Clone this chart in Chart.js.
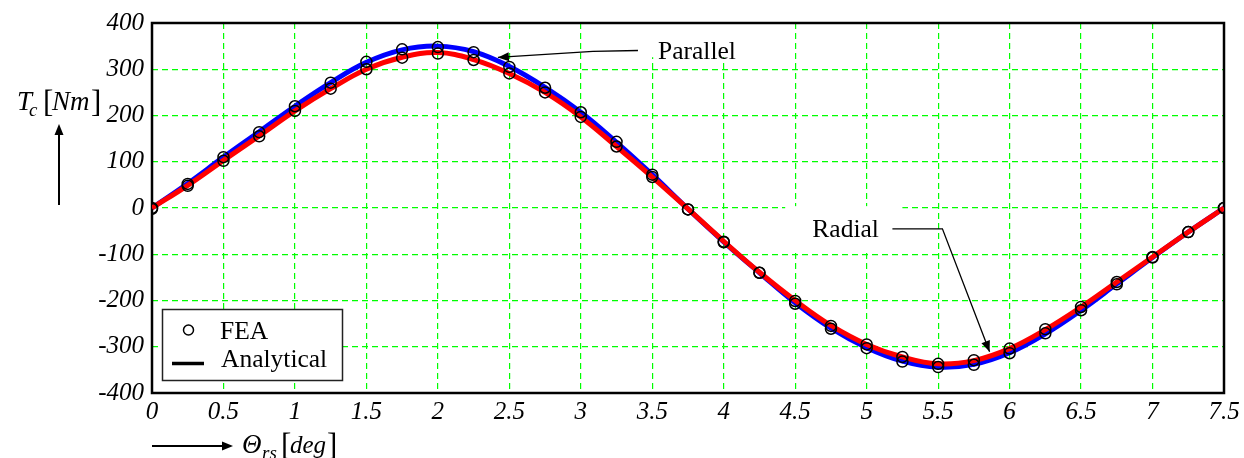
<!DOCTYPE html>
<html>
<head>
<meta charset="utf-8">
<script src="https://cdn.jsdelivr.net/npm/chart.js@4.4.1/dist/chart.umd.min.js"></script>
<style>
  html, body { margin: 0; padding: 0; background: #fff; }
  #wrap { width: 1244px; height: 458px; }
</style>
</head>
<body>
<div id="wrap"><canvas id="c" width="1244" height="458"></canvas></div>
<script>
// ---- data ----
const angles = [0, 0.25, 0.5, 0.75, 1, 1.25, 1.5, 1.75, 2, 2.25, 2.5, 2.75, 3, 3.25, 3.5, 3.75,
                4, 4.25, 4.5, 4.75, 5, 5.25, 5.5, 5.75, 6, 6.25, 6.5, 6.75, 7, 7.25, 7.5];
const parallelFEA = [0, 52, 110, 164, 220, 271, 316, 343, 348, 337, 305, 260, 207, 143, 72, -3,
                     -74, -140, -207, -261, -303, -332, -344, -339, -314, -271, -221, -165, -107, -52, 0];
const radialFEA = [-2, 48, 102, 155, 210, 258, 300, 325, 334, 320, 291, 250, 197, 133, 67, -3,
                   -73, -140, -201, -255, -295, -322, -337, -329, -304, -262, -214, -160, -106, -52, 0];
const parallelAnalytical = [0, 53, 110, 165, 220, 271, 315, 342, 350, 338, 306, 261, 207, 142, 72, -2,
                            -73, -140, -205, -260, -302, -331, -344, -338, -313, -272, -221, -164, -107, -52, 0];
const radialAnalytical = [0, 49, 103, 156, 210, 258, 300, 326, 336, 321, 291, 250, 197, 133, 67, -2,
                          -72, -139, -200, -254, -295, -322, -337, -330, -304, -263, -214, -160, -106, -52, 0];
const xTickLabels = ['0', '0.5', '1', '1.5', '2', '2.5', '3', '3.5', '4', '4.5', '5', '5.5', '6', '6.5', '7', '7.5'];
const yTickLabels = ['-400', '-300', '-200', '-100', '0', '100', '200', '300', '400'];
const legendLabels = ['FEA', 'Analytical'];
const annotationLabels = ['Parallel', 'Radial'];

const toXY = arr => angles.map((a, i) => ({ x: a, y: arr[i] }));
const SERIF = "'Liberation Serif', 'Times New Roman', serif";

function arrowHead(ctx, fx, fy, tx, ty, len, half) {
  const ang = Math.atan2(ty - fy, tx - fx);
  ctx.beginPath();
  ctx.moveTo(tx, ty);
  ctx.lineTo(tx - len * Math.cos(ang) + half * Math.sin(ang), ty - len * Math.sin(ang) - half * Math.cos(ang));
  ctx.lineTo(tx - len * Math.cos(ang) - half * Math.sin(ang), ty - len * Math.sin(ang) + half * Math.cos(ang));
  ctx.closePath();
  ctx.fill();
}

const overlay = {
  id: 'overlay',
  beforeDatasetsDraw(chart) {
    const { ctx, chartArea: a, scales: { x, y } } = chart;
    ctx.save();
    // white boxes behind annotation labels
    ctx.fillStyle = '#fff';
    const boxes = [[3.40, 4.23, 400, 326], [4.43, 5.25, 4, -90]];
    for (const b of boxes) {
      const x0 = x.getPixelForValue(b[0]), x1 = x.getPixelForValue(b[1]);
      const y0 = y.getPixelForValue(b[2]), y1 = y.getPixelForValue(b[3]);
      ctx.fillRect(x0, y0, x1 - x0, y1 - y0);
    }
    // frame
    ctx.strokeStyle = '#000';
    ctx.lineWidth = 2.5;
    ctx.strokeRect(a.left, a.top, a.right - a.left, a.bottom - a.top);
    ctx.restore();
  },
  afterDraw(chart) {
    const { ctx, scales: { x, y } } = chart;
    ctx.save();
    ctx.fillStyle = '#000';
    ctx.strokeStyle = '#000';
    ctx.textBaseline = 'alphabetic';
    ctx.textAlign = 'left';

    // annotations
    ctx.font = `25.5px ${SERIF}`;
    ctx.fillText(annotationLabels[0], x.getPixelForValue(3.54), y.getPixelForValue(322));
    ctx.fillText(annotationLabels[1], x.getPixelForValue(4.62), y.getPixelForValue(-62));
    ctx.lineWidth = 1.3;
    // Parallel arrow
    let p = [[3.40, 340.5], [3.085, 338.5], [2.42, 325.5]].map(q => [x.getPixelForValue(q[0]), y.getPixelForValue(q[1])]);
    ctx.beginPath(); ctx.moveTo(p[0][0], p[0][1]); ctx.lineTo(p[1][0], p[1][1]); ctx.lineTo(p[2][0], p[2][1]); ctx.stroke();
    arrowHead(ctx, p[1][0], p[1][1], p[2][0], p[2][1], 11, 4.5);
    // Radial arrow
    p = [[5.18, -45], [5.53, -45], [5.86, -311]].map(q => [x.getPixelForValue(q[0]), y.getPixelForValue(q[1])]);
    ctx.beginPath(); ctx.moveTo(p[0][0], p[0][1]); ctx.lineTo(p[1][0], p[1][1]); ctx.lineTo(p[2][0], p[2][1]); ctx.stroke();
    arrowHead(ctx, p[1][0], p[1][1], p[2][0], p[2][1], 11, 4.5);

    // legend box
    ctx.fillStyle = '#fff';
    ctx.fillRect(162, 309, 181, 72);
    ctx.strokeStyle = '#222';
    ctx.lineWidth = 1.5;
    ctx.strokeRect(162.5, 309.5, 180, 71);
    ctx.strokeStyle = '#000';
    ctx.beginPath(); ctx.arc(188.5, 330, 5, 0, Math.PI * 2); ctx.lineWidth = 1.5; ctx.stroke();
    ctx.lineWidth = 3.5;
    ctx.beginPath(); ctx.moveTo(172, 363.5); ctx.lineTo(204, 363.5); ctx.stroke();
    ctx.fillStyle = '#000';
    ctx.font = `25.5px ${SERIF}`;
    ctx.fillText(legendLabels[0], 220, 338.5);
    ctx.fillText(legendLabels[1], 221, 366.5);

    // y axis title: T_c [Nm]
    ctx.font = `italic 27px ${SERIF}`;
    ctx.fillText('T', 17, 110);
    ctx.font = `italic 19px ${SERIF}`;
    ctx.fillText('c', 29, 116);
    ctx.font = `31px ${SERIF}`;
    ctx.fillText('[', 43, 112);
    ctx.fillText(']', 91, 112);
    ctx.font = `italic 27px ${SERIF}`;
    ctx.fillText('Nm', 52, 110);
    // y arrow
    ctx.lineWidth = 2;
    ctx.beginPath(); ctx.moveTo(59, 205); ctx.lineTo(59, 133); ctx.stroke();
    arrowHead(ctx, 59, 205, 59, 124, 11, 4.5);

    // x axis title: Θ_rs [deg]
    ctx.beginPath(); ctx.moveTo(152, 446); ctx.lineTo(224, 446); ctx.stroke();
    arrowHead(ctx, 152, 446, 233, 446, 11, 4.5);
    ctx.font = `italic 27px ${SERIF}`;
    ctx.fillText('\u0398', 242, 453);
    ctx.font = `italic 19px ${SERIF}`;
    ctx.fillText('rs', 262, 459);
    ctx.font = `31px ${SERIF}`;
    ctx.fillText('[', 281, 455);
    ctx.fillText(']', 327, 455);
    ctx.font = `italic 25px ${SERIF}`;
    ctx.fillText('deg', 290, 453);
    ctx.restore();
  }
};

const circleStyle = {
  showLine: false, pointRadius: 5.5, pointHoverRadius: 5.5, pointBorderWidth: 1.5,
  pointBorderColor: '#000', pointBackgroundColor: 'rgba(0,0,0,0)'
};
const lineStyle = { showLine: true, pointRadius: 0, borderWidth: 5, tension: 0.4, fill: false };

new Chart(document.getElementById('c'), {
  type: 'scatter',
  data: {
    datasets: [
      Object.assign({ label: 'FEA Parallel', data: toXY(parallelFEA) }, circleStyle),
      Object.assign({ label: 'FEA Radial', data: toXY(radialFEA) }, circleStyle),
      Object.assign({ label: 'Analytical Radial', data: toXY(radialAnalytical), borderColor: '#ff0000' }, lineStyle),
      Object.assign({ label: 'Analytical Parallel', data: toXY(parallelAnalytical), borderColor: '#0000ff' }, lineStyle)
    ]
  },
  options: {
    responsive: false,
    animation: false,
    devicePixelRatio: 1,
    layout: { padding: { left: 0, right: 20, top: 20, bottom: 0 } },
    plugins: { legend: { display: false }, tooltip: { enabled: false } },
    scales: {
      x: {
        type: 'linear', min: 0, max: 7.5,
        afterFit: s => { s.height = 65; },
        ticks: {
          stepSize: 0.5, padding: 4, color: '#000', maxRotation: 0, autoSkip: false,
          font: { family: SERIF, size: 25, style: 'italic' },
          callback: v => xTickLabels[Math.round(v / 0.5)]
        },
        grid: { color: '#00ff00', lineWidth: 1.2, drawTicks: false },
        border: { display: false, dash: [6, 4] }
      },
      y: {
        min: -400, max: 400,
        afterFit: s => { s.width = 152; },
        ticks: {
          stepSize: 100, padding: 8, color: '#000',
          font: { family: SERIF, size: 25, style: 'italic' },
          callback: v => yTickLabels[Math.round((v + 400) / 100)]
        },
        grid: { color: '#00ff00', lineWidth: 1.2, drawTicks: false },
        border: { display: false, dash: [6, 4] }
      }
    }
  },
  plugins: [overlay]
});
</script>
</body>
</html>
